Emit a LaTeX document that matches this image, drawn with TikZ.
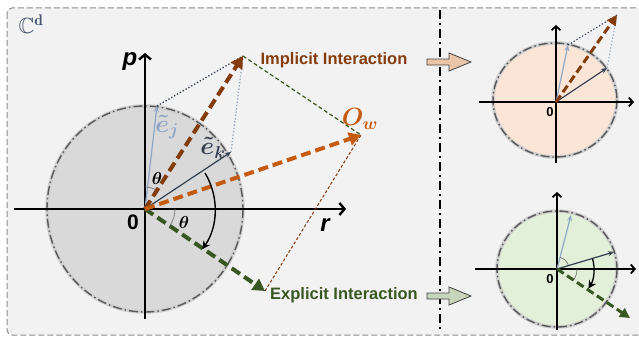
\documentclass[tikz,border=0pt]{standalone}
\usepackage{amsmath,amssymb}
\usepackage{fontspec}
\setsansfont{Liberation Sans}
\usetikzlibrary{arrows.meta}

\definecolor{panelgray}{HTML}{F2F2F2}
\definecolor{boxgray}{HTML}{8C8C8C}
\definecolor{discgray}{HTML}{D9D9D9}
\definecolor{discpeach}{HTML}{FBE5D6}
\definecolor{discgreen}{HTML}{E2F0D9}
\definecolor{rimgray}{HTML}{595959}
\definecolor{halogray}{HTML}{CFCFCF}
\definecolor{implbrown}{HTML}{843C0C}
\definecolor{worange}{HTML}{C55A11}
\definecolor{explgreen}{HTML}{385723}
\definecolor{ejblue}{HTML}{8FA7C7}
\definecolor{ekblue}{HTML}{333F50}
\definecolor{peachfill}{HTML}{EBC5AA}
\definecolor{sagefill}{HTML}{C8D5BD}
\definecolor{ctext}{HTML}{44546A}

\begin{document}
\begin{tikzpicture}[x=1pt,y=-1pt,
  frame/.style={draw=boxgray,line width=1pt,dash pattern=on 6pt off 3pt,rounded corners=5pt,fill=panelgray},
  divider/.style={line width=1.5pt,dash pattern=on 9pt off 4pt on 2pt off 4pt},
  halo/.style={draw=halogray,line width=3.5pt},
  rim/.style={draw=rimgray,line width=1.4pt,dash pattern=on 9pt off 3pt on 1.5pt off 3pt},
  axis/.style={line width=2.4pt,-{Straight Barb[length=5pt,width=12pt]}},
  smallaxis/.style={line width=1.8pt,-{Straight Barb[length=4pt,width=9pt]}},
  bigvec/.style={line width=4pt,dash pattern=on 10pt off 5pt,-{Triangle[length=12pt,width=13pt]}},
  midvec/.style={line width=3pt,dash pattern=on 8pt off 4pt,-{Triangle[length=10pt,width=10pt]}},
  unitvec/.style={line width=1.2pt,-{Stealth[length=6pt,width=5pt]}},
  guide/.style={line width=1.3pt,dotted},
  turn/.style={line width=1.4pt,-{Stealth[length=8pt,width=8pt]}},
  anglemark/.style={draw=gray,line width=0.8pt},
  blockarrow/.style={draw=black!75,line width=0.8pt},
  mathlabel/.style={inner sep=0pt,font=\fontsize{23}{25}\selectfont\boldmath},
  thetalabel/.style={inner sep=0pt,font=\fontsize{16}{18}\selectfont},
  axlabel/.style={font=\sffamily\bfseries\fontsize{24}{26}\selectfont,inner sep=0pt},
  zerolabel/.style={font=\sffamily\bfseries\fontsize{21}{22}\selectfont,inner sep=0pt},
  smallzero/.style={font=\sffamily\bfseries\fontsize{13}{14}\selectfont,inner sep=0pt},
  caption/.style={font=\sffamily\bfseries\fontsize{16.5}{18}\selectfont,inner sep=0pt}]

\useasboundingbox (0,0) rectangle (639,337);
\draw[frame] (7,8) rectangle (662,335);
\draw[divider] (440,10) -- (440,331);

\node[mathlabel,text=ctext,font=\fontsize{22}{24}\selectfont] (cd) at (31,24) {$\mathbb{C}^{\mathbf{d}}$};

\coordinate (O) at (145,209);
\coordinate (rL) at (14,209);
\coordinate (rR) at (346,209);
\coordinate (pB) at (145,319);
\coordinate (pT) at (145,53);
\coordinate (ej) at (157,106);
\coordinate (ek) at (231,152);
\coordinate (im) at (243,56);
\coordinate (ow) at (361,135);
\coordinate (ex) at (265,291);

\draw[halo,fill=discgray] (O) ellipse [x radius=98,y radius=103];
\draw[rim] (O) ellipse [x radius=98,y radius=103];

\draw[axis] (rL) -- (rR);
\draw[axis] (pB) -- (pT);

\node[axlabel] (plabel) at (130,62) {\itshape p};
\node[axlabel] (rlabel) at (325,225) {\itshape r};
\node[zerolabel] (zero) at (133,222) {0};

\draw[guide,ekblue] (ej) -- (im);
\draw[guide,ejblue] (ek) -- (im);
\draw[explgreen,line width=1.2pt,dash pattern=on 4pt off 2.5pt] (im) -- (ow);
\draw[implbrown,line width=1pt,dash pattern=on 3pt off 2pt] (ex) -- (ow);

\draw[unitvec,ejblue] (O) -- (ej);
\draw[unitvec,ekblue] (O) -- (ek);

\draw[anglemark] ([shift={(-90:22)}]O) arc[start angle=-90,end angle=-57,radius=22];
\draw[anglemark] ([shift={(0:30)}]O) arc[start angle=0,end angle=34,radius=30];
\node[thetalabel] (th1) at (157,178) {$\boldsymbol{\theta}$};
\node[thetalabel] (th2) at (184,222) {$\boldsymbol{\theta}$};

\draw[bigvec,implbrown] (O) -- (im);
\draw[bigvec,explgreen] (O) -- (ex);
\draw[bigvec,worange] (O) -- (ow);

\draw[turn] ([shift={(-31:70)}]O) arc[start angle=-31,end angle=35,radius=70];

\node[mathlabel,text=ejblue] (ejlabel) at (167,127) {$\tilde{e}_j$};
\node[mathlabel,text=ekblue] (eklabel) at (213,148) {$\tilde{e}_k$};
\node[mathlabel,text=worange,font=\fontsize{24}{26}\selectfont] (owlabel) at (360,119) {$\boldsymbol{O_w}$};

\node[caption,text=implbrown] (implicit) at (334,60) {Implicit Interaction};
\node[caption,text=explgreen] (explicit) at (344,295) {Explicit Interaction};

\draw[blockarrow,fill=peachfill] (427,59) -- (449,59) -- (449,53) -- (471,62) -- (449,71) -- (449,65) -- (427,65) -- cycle;
\draw[blockarrow,fill=sagefill] (427,293) -- (449,293) -- (449,287) -- (471,296) -- (449,305) -- (449,299) -- (427,299) -- cycle;

\coordinate (A) at (556,102);
\coordinate (aL) at (479,102);
\coordinate (aR) at (634,102);
\coordinate (aB) at (556,163);
\coordinate (aT) at (556,25);
\coordinate (aj) at (568,45);
\coordinate (ak) at (607,68);
\coordinate (aim) at (617,15);

\draw[halo,fill=discpeach] ([shift={(-1,-2)}]A) ellipse [x radius=62,y radius=57];
\draw[rim] ([shift={(-1,-2)}]A) ellipse [x radius=62,y radius=57];

\draw[smallaxis] (aL) -- (aR);
\draw[smallaxis] (aB) -- (aT);
\node[smallzero] (azero) at (550,112) {0};

\draw[guide,ekblue,line width=1.1pt] (aj) -- (aim);
\draw[guide,ejblue,line width=1.1pt] (ak) -- (aim);
\draw[unitvec,ejblue] (A) -- (aj);
\draw[unitvec,ekblue] (A) -- (ak);
\draw[midvec,implbrown] (A) -- (aim);

\coordinate (B) at (557,269);
\coordinate (bL) at (475,269);
\coordinate (bR) at (636,269);
\coordinate (bB) at (557,330);
\coordinate (bT) at (557,192);
\coordinate (bj) at (571,215);
\coordinate (bk) at (614,252);
\coordinate (bex) at (630,318);

\draw[halo,fill=discgreen] (B) ellipse [x radius=60,y radius=58];
\draw[rim] (B) ellipse [x radius=60,y radius=58];

\draw[smallaxis] (bL) -- (bR);
\draw[smallaxis] (bB) -- (bT);
\node[smallzero] (bzero) at (550,279) {0};

\draw[unitvec,ejblue] (B) -- (bj);
\draw[unitvec,ekblue] (B) -- (bk);
\draw[anglemark] ([shift={(-75:12)}]B) arc[start angle=-75,end angle=-20,radius=12];
\draw[anglemark] ([shift={(0:20)}]B) arc[start angle=0,end angle=34,radius=20];
\draw[midvec,explgreen] (B) -- (bex);
\draw[turn,line width=1.3pt] ([shift={(-16:37)}]B) arc[start angle=-16,end angle=32,radius=37];

\end{tikzpicture}
\end{document}
